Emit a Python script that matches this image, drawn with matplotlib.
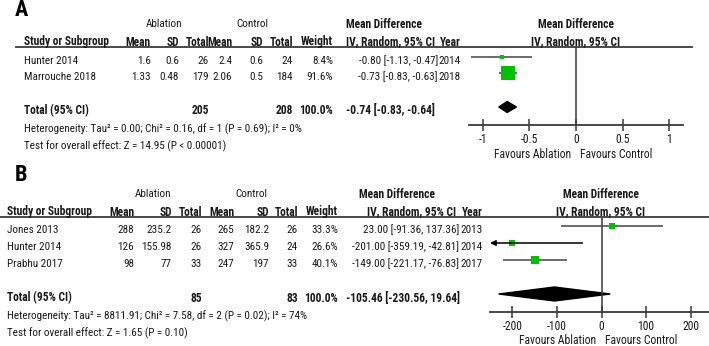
import matplotlib
matplotlib.use('Agg')
import matplotlib.pyplot as plt
from matplotlib import font_manager
from matplotlib.patches import Polygon

# pick a narrow font if one is there
names = {f.name for f in font_manager.fontManager.ttflist}
font = 'Liberation Sans'
for cand in ['Liberation Sans Narrow', 'Arial Narrow', 'Roboto Condensed', 'DejaVu Sans Condensed']:
    if cand in names:
        font = cand
        break
plt.rcParams['font.family'] = [font, 'DejaVu Sans']

# ---- data: panel A
a_studies = ['Hunter 2014', 'Marrouche 2018']
a_abl_mean = [1.6, 1.33]
a_abl_sd = [0.6, 0.48]
a_abl_n = [26, 179]
a_ctl_mean = [2.4, 2.06]
a_ctl_sd = [0.6, 0.5]
a_ctl_n = [24, 184]
a_weight = [8.4, 91.6]
a_md = [-0.80, -0.73]
a_lo = [-1.13, -0.83]
a_hi = [-0.47, -0.63]
a_year = [2014, 2018]
a_tot = [205, 208, -0.74, -0.83, -0.64]
a_het = 'Heterogeneity: Tau² = 0.00; Chi² = 0.16, df = 1 (P = 0.69); I² = 0%'
a_test = 'Test for overall effect: Z = 14.95 (P < 0.00001)'
a_ticks = [-1, -0.5, 0, 0.5, 1]
a_ticklabels = ['-1', '-0.5', '0', '0.5', '1']

# ---- data: panel B
b_studies = ['Jones 2013', 'Hunter 2014', 'Prabhu 2017']
b_abl_mean = [288, 126, 98]
b_abl_sd = [235.2, 155.98, 77]
b_abl_n = [26, 26, 33]
b_ctl_mean = [265, 327, 247]
b_ctl_sd = [182.2, 365.9, 197]
b_ctl_n = [26, 24, 33]
b_weight = [33.3, 26.6, 40.1]
b_md = [23.00, -201.00, -149.00]
b_lo = [-91.36, -359.19, -221.17]
b_hi = [137.36, -42.81, -76.83]
b_year = [2013, 2014, 2017]
b_tot = [85, 83, -105.46, -230.56, 19.64]
b_het = 'Heterogeneity: Tau² = 8811.91; Chi² = 7.58, df = 2 (P = 0.02); I² = 74%'
b_test = 'Test for overall effect: Z = 1.65 (P = 0.10)'
b_ticks = [-200, -100, 0, 100, 200]
b_ticklabels = ['-200', '-100', '0', '100', '200']

W, H = 709, 346
fig = plt.figure(figsize=(W / 100, H / 100), dpi=100)
bg = fig.add_axes([0, 0, 1, 1])
bg.set_xlim(0, W)
bg.set_ylim(H, 0)
bg.axis('off')

FS = 8.0
FSB = 8.3
TXT = '#1a1a1a'
GREEN = '#00c000'
LINE = '#3a3a3a'


def t(x, y, s, ha='left', bold=False):
    bg.text(x, y, s, ha=ha, va='center', fontsize=FSB if bold else FS, color=TXT,
            fontweight='bold' if bold else 'normal')


def panel(letter, top, hy, cy, left, cols, mdx, yearx, fx, xlim, rows_y, tot_y,
          studies, data, weights, md, lo, hi, years, tot, het, test,
          ticks, ticklabels, ms_k, dia_h, rule, fav_y, tick_y):
    bg.text(15, top, letter, ha='left', va='center', fontsize=16,
            fontweight='bold', color='black')
    t(cols['abl'], hy, 'Ablation', ha='center')
    t(cols['ctl'], hy, 'Control', ha='center')
    t(mdx, hy, 'Mean Difference', bold=True)
    t(fx[2], hy, 'Mean Difference', ha='center', bold=True)
    t(left, cy, 'Study or Subgroup', bold=True)
    heads = ['Mean', 'SD', 'Total', 'Mean', 'SD', 'Total', 'Weight']
    for x, h in zip(cols['r'], heads):
        t(x, cy, h, ha='right', bold=True)
    t(mdx + cols['ivoff'], cy, 'IV, Random, 95% CI', bold=True)
    t(yearx, cy, 'Year', ha='right', bold=True)
    t(fx[2], cy, 'IV, Random, 95% CI', ha='center', bold=True)
    bg.plot(rule[0:2], [rule[2]] * 2, color=LINE, lw=1.3)

    for i, y in enumerate(rows_y):
        t(left, y, studies[i])
        vals = [row[i] for row in data] + [f'{weights[i]:.1f}%']
        for x, v in zip(cols['r'], vals):
            t(x, y, str(v), ha='right')
        t(cols['mdr'], y, f'{md[i]:.2f} [{lo[i]:.2f}, {hi[i]:.2f}]', ha='right')
        t(yearx, y, str(years[i]), ha='right')

    t(left, tot_y, 'Total (95% CI)', bold=True)
    t(cols['r'][2], tot_y, str(tot[0]), ha='right', bold=True)
    t(cols['r'][5], tot_y, str(tot[1]), ha='right', bold=True)
    t(cols['r'][6], tot_y, '100.0%', ha='right', bold=True)
    t(346, tot_y, f'{tot[2]:.2f} [{tot[3]:.2f}, {tot[4]:.2f}]', bold=True)
    t(left, tot_y + 18, het)
    t(left, tot_y + 35, test)

    # forest axis (x in mean-difference units, y in pixel rows)
    x0, x1 = fx[0], fx[1]
    ax = fig.add_axes([x0 / W, 1 - tick_y / H, (x1 - x0) / W, (tick_y - rule[2]) / H])
    ax.set_xlim(*xlim)
    ax.set_ylim(tick_y, rule[2])
    ax.patch.set_alpha(0)
    for s in ['top', 'left', 'right']:
        ax.spines[s].set_visible(False)
    ax.spines['bottom'].set_color(LINE)
    ax.spines['bottom'].set_linewidth(1.3)
    ax.set_yticks([])
    ax.set_xticks(ticks)
    ax.set_xticklabels(ticklabels)
    ax.tick_params(axis='x', direction='inout', length=8, width=1.1,
                   color=LINE, labelsize=FS + 0.4, labelcolor=TXT, pad=1.5)
    ax.axvline(0, color=LINE, lw=1.1)

    for i, y in enumerate(rows_y):
        my = y - 4
        if lo[i] < xlim[0]:
            ax.annotate('', xy=(xlim[0], my), xytext=(hi[i], my),
                        arrowprops=dict(arrowstyle='-|>', color='black', lw=1.1,
                                        mutation_scale=8, shrinkA=0, shrinkB=0))
        else:
            ax.hlines(my, lo[i], hi[i], color='#444444', lw=1.1)
        ax.plot(md[i], my, 's', ms=ms_k * weights[i] ** 0.5, color=GREEN,
                mec=GREEN, mew=0)

    dy = tot_y - 4
    ax.add_patch(Polygon([(tot[3], dy), (tot[2], dy - dia_h), (tot[4], dy),
                          (tot[2], dy + dia_h)], closed=True, color='black'))

    bg.text(fx[2] - 5, fav_y, 'Favours Ablation', ha='right', va='center',
            fontsize=FS + 0.4, color=TXT)
    bg.text(fx[2] + 4, fav_y, 'Favours Control', ha='left', va='center',
            fontsize=FS + 0.4, color=TXT)


panel('A', 10, 24, 42, 24,
      dict(abl=164, ctl=252, r=[151, 179, 209, 232, 263, 293, 333], mdr=438, ivoff=0),
      346, 461, (469, 683, 576), (-1.15, 1.15), [61, 77], 111,
      a_studies, [a_abl_mean, a_abl_sd, a_abl_n, a_ctl_mean, a_ctl_sd, a_ctl_n],
      a_weight, a_md, a_lo, a_hi, a_year, a_tot, a_het, a_test,
      a_ticks, a_ticklabels, 1.05, 5.5, (16, 692, 47), 154, 125)

panel('B', 175, 194, 212, 7,
      dict(abl=153, ctl=251, r=[134, 172, 202, 234, 269, 298, 338], mdr=459, ivoff=8),
      359, 483, (490, 713, 601), (-250, 250), [230, 247, 264], 298,
      b_studies, [b_abl_mean, b_abl_sd, b_abl_n, b_ctl_mean, b_ctl_sd, b_ctl_n],
      b_weight, b_md, b_lo, b_hi, b_year, b_tot, b_het, b_test,
      b_ticks, b_ticklabels, 0.8, 7, (0, 709, 217), 341, 312)

fig.savefig('out.png', dpi=100)
